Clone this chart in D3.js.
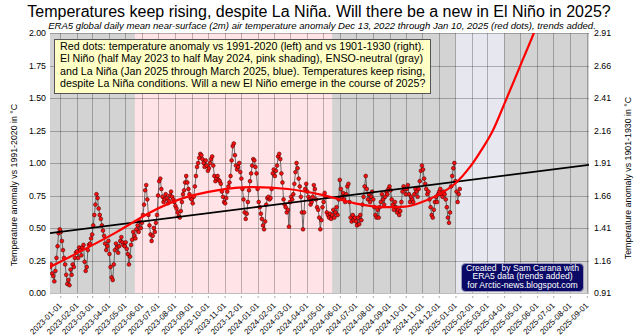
<!DOCTYPE html>
<html><head><meta charset="utf-8">
<script src="https://cdn.jsdelivr.net/npm/d3@7"></script>
<style>
html,body{margin:0;padding:0;background:#fff;}
svg{display:block;font-family:"Liberation Sans",Arial,Helvetica,sans-serif;}
</style></head><body>
<svg id="chart" width="640" height="336"></svg>
<script>
// ---------- texts ----------
const titleText = "Temperatures keep rising, despite La Niña. Will there be a new in El Niño in 2025?";
const subtitleText = "ERA5 global daily mean near-surface (2m) air temperature anomaly Dec 13, 2022 through Jan 10, 2025 (red dots), trends added.";
const leftAxisTitle = "Temperature anomaly vs 1991-2020 in °C";
const rightAxisTitle = "Temperature anomaly vs 1901-1930 in °C";
const noteLines = [
  "Red dots: temperature anomaly vs 1991-2020 (left) and vs 1901-1930 (right).",
  "El Niño (half May 2023 to half May 2024, pink shading), ENSO-neutral (gray)",
  "and La Niña (Jan 2025 through March 2025, blue). Temperatures keep rising,",
  "despite La Niña conditions. Will a new El Niño emerge in the course of 2025?"
];
const creditLines = ["Created  by Sam Carana with", "ERA5 data (trends added)", "for Arctic-news.blogspot.com"];

// ---------- axes / ticks ----------
const xDomain = ["2022-12-13", "2025-09-05"];
const monthTicks = ["2023-01-01","2023-02-01","2023-03-01","2023-04-01","2023-05-01","2023-06-01","2023-07-01","2023-08-01","2023-09-01","2023-10-01","2023-11-01","2023-12-01",
  "2024-01-01","2024-02-01","2024-03-01","2024-04-01","2024-05-01","2024-06-01","2024-07-01","2024-08-01","2024-09-01","2024-10-01","2024-11-01","2024-12-01",
  "2025-01-01","2025-02-01","2025-03-01","2025-04-01","2025-05-01","2025-06-01","2025-07-01","2025-08-01","2025-09-01"];
const leftTicks = [0, 0.25, 0.5, 0.75, 1.0, 1.25, 1.5, 1.75, 2.0];
const rightTicks = [0.91, 1.16, 1.41, 1.66, 1.91, 2.16, 2.41, 2.66, 2.91];

// ---------- ENSO shading ----------
const ensoStart = ["2023-05-19", "2025-01-01"];
const ensoEnd   = ["2024-05-18", "2025-04-01"];
const ensoPhase = ["El Niño", "La Niña"];

// ---------- daily anomaly (every 2nd day from first date), °C vs 1991-2020 ----------
const firstDate = "2022-12-13";
const stepDays = 2;
const anomalyValues = [
  // Dec 2022
  0.20,0.22,0.15,0.13,0.09,0.17,0.27,0.36,0.46,0.49,
  // Jan 2023
  0.47,0.40,0.33,0.27,0.22,0.14,0.07,0.10,0.06,0.18,0.14,0.22,0.20,0.27,0.31,
  // Feb
  0.32,0.27,0.35,0.33,0.29,0.35,0.37,0.24,0.17,0.20,0.33,0.37,0.38,0.42,
  // Mar
  0.45,0.52,0.60,0.68,0.76,0.73,0.65,0.60,0.57,0.52,0.48,0.44,0.38,0.33,0.36,
  // Apr
  0.40,0.30,0.20,0.12,0.10,0.22,0.33,0.38,0.35,0.31,0.36,0.40,0.43,0.39,0.37,
  // May
  0.36,0.39,0.34,0.30,0.22,0.28,0.37,0.41,0.47,0.44,0.42,0.49,0.52,0.47,0.55,0.50,
  // Jun
  0.54,0.60,0.68,0.79,0.83,0.72,0.60,0.52,0.45,0.40,0.44,0.50,0.47,0.54,0.60,
  // Jul
  0.75,0.86,0.88,0.80,0.74,0.70,0.72,0.76,0.73,0.69,0.71,0.75,0.78,0.74,0.72,
  // Aug
  0.70,0.67,0.65,0.62,0.59,0.58,0.63,0.70,0.76,0.79,0.85,0.90,0.85,0.80,0.76,0.73,
  // Sep
  0.72,0.69,0.74,0.82,0.90,0.97,1.00,1.04,1.07,1.06,1.03,1.00,0.97,1.02,0.98,
  // Oct
  0.94,0.96,1.00,1.03,1.05,0.98,0.90,0.86,0.88,0.90,0.87,0.86,0.84,0.78,0.74,0.70,
  // Nov
  0.69,0.73,0.78,0.82,0.85,0.90,1.02,1.13,1.15,1.06,0.98,0.95,0.97,1.00,0.93,
  // Dec
  0.88,0.80,0.72,0.62,0.57,0.61,0.70,0.79,0.86,0.92,0.98,1.03,1.02,0.97,0.92,
  // Jan 2024
  0.80,0.70,0.66,0.61,0.57,0.52,0.49,0.55,0.68,0.73,0.74,0.72,0.73,0.80,0.92,
  // Feb
  0.95,0.90,0.94,0.98,1.05,1.07,1.03,0.92,0.85,0.72,0.68,0.66,0.62,0.64,0.51,
  // Mar
  0.70,0.74,0.72,0.76,0.84,0.93,1.00,0.96,0.88,0.82,0.74,0.62,0.49,0.62,0.80,
  // Apr
  0.84,0.78,0.74,0.72,0.68,0.70,0.74,0.83,0.80,0.72,0.66,0.64,0.58,0.49,0.56,0.66,
  // May
  0.70,0.77,0.74,0.62,0.60,0.58,0.61,0.57,0.60,0.64,0.58,0.62,0.66,0.60,0.72,
  // Jun
  0.87,0.80,0.74,0.77,0.72,0.70,0.76,0.82,0.84,0.70,0.58,0.55,0.60,0.56,0.58,
  // Jul
  0.55,0.52,0.58,0.53,0.60,0.56,0.68,0.74,0.82,0.90,0.80,0.72,0.76,0.70,0.74,
  // Aug
  0.78,0.72,0.66,0.60,0.58,0.64,0.58,0.66,0.70,0.76,0.72,0.68,0.74,0.78,0.76,0.80,
  // Sep
  0.82,0.79,0.72,0.68,0.64,0.70,0.66,0.62,0.64,0.60,0.63,0.70,0.78,0.82,0.80,
  // Oct
  0.76,0.80,0.83,0.76,0.70,0.74,0.72,0.70,0.76,0.80,0.78,0.74,0.80,0.86,0.94,0.98,
  // Nov
  0.95,0.88,0.84,0.80,0.76,0.78,0.72,0.66,0.60,0.58,0.64,0.70,0.74,0.70,0.76,
  // Dec
  0.78,0.80,0.76,0.74,0.78,0.76,0.72,0.66,0.58,0.54,0.62,0.82,0.90,0.96,1.00,
  // Jan 2025
  0.86,0.78,0.70,0.76,0.80
];

// ---------- trends ----------
const polyTrendDates = ["2022-12-13","2023-02-12","2023-04-16","2023-06-16","2023-08-16","2023-10-18","2023-12-18",
  "2024-02-26","2024-04-29","2024-06-29","2024-08-29","2024-09-30","2024-10-31","2024-11-30","2024-12-31",
  "2025-01-28","2025-02-15","2025-03-10","2025-04-03","2025-04-30","2025-05-26","2025-06-21"];
const polyTrendValues = [0.20,0.33,0.47,0.62,0.73,0.79,0.815,
  0.80,0.755,0.69,0.66,0.665,0.70,0.755,0.84,
  0.97,1.08,1.24,1.47,1.74,2.00,2.28];
const linTrendDates = ["2022-12-13", "2025-09-05"];
const linTrendValues = [0.46, 0.985];

// ---------- drawing ----------
const W = 640, H = 336;
const P = {left: 50, right: 589, top: 33, bottom: 293};
const parse = d3.utcParse("%Y-%m-%d");
const x = d3.scaleUtc().domain(xDomain.map(parse)).range([P.left, P.right]);
const y = d3.scaleLinear().domain([0, 2]).range([P.bottom, P.top]);
const yR = d3.scaleLinear().domain([0.91, 2.91]).range([P.bottom, P.top]);

const svg = d3.select("#chart");
svg.append("rect").attr("width", W).attr("height", H).attr("fill", "#fff");

svg.append("defs").append("clipPath").attr("id", "clip")
  .append("rect").attr("x", P.left).attr("y", P.top)
  .attr("width", P.right - P.left).attr("height", P.bottom - P.top);

// background (ENSO-neutral gray)
svg.append("rect").attr("x", P.left).attr("y", P.top)
  .attr("width", P.right - P.left).attr("height", P.bottom - P.top)
  .attr("fill", "#d3d3d3");

const ensoColor = {"El Niño": "#ffe3e6", "La Niña": "#e7e8ef"};
svg.append("g").selectAll("rect").data(ensoPhase).join("rect")
  .attr("x", (d, i) => x(parse(ensoStart[i])))
  .attr("width", (d, i) => x(parse(ensoEnd[i])) - x(parse(ensoStart[i])))
  .attr("y", P.top).attr("height", P.bottom - P.top)
  .attr("fill", d => ensoColor[d]);

// grid
const grid = svg.append("g").attr("stroke", "rgba(0,0,0,0.26)").attr("stroke-width", 1);
grid.selectAll("line.v").data(monthTicks).join("line").attr("class", "v")
  .attr("x1", d => Math.round(x(parse(d))) + 0.5).attr("x2", d => Math.round(x(parse(d))) + 0.5)
  .attr("y1", P.top).attr("y2", P.bottom);
grid.selectAll("line.h").data(leftTicks).join("line").attr("class", "h")
  .attr("x1", P.left).attr("x2", P.right)
  .attr("y1", d => Math.round(y(d)) + 0.5).attr("y2", d => Math.round(y(d)) + 0.5);

// data
const pts = anomalyValues.map((v, i) => ({date: d3.utcDay.offset(parse(firstDate), i * stepDays), v}));
const dataG = svg.append("g").attr("clip-path", "url(#clip)");
dataG.append("path").datum(pts)
  .attr("d", d3.line().x(d => x(d.date)).y(d => y(d.v)))
  .attr("fill", "none").attr("stroke", "#4a4a4a").attr("stroke-width", 0.8);
dataG.selectAll("circle").data(pts).join("circle")
  .attr("cx", d => x(d.date)).attr("cy", d => y(d.v)).attr("r", 1.9)
  .attr("fill", "#ff1010").attr("stroke", "#400000").attr("stroke-width", 0.55);

// trends
const trendG = svg.append("g").attr("clip-path", "url(#clip)");
trendG.append("path")
  .datum(linTrendDates.map((d, i) => ({date: parse(d), v: linTrendValues[i]})))
  .attr("d", d3.line().x(d => x(d.date)).y(d => y(d.v)))
  .attr("fill", "none").attr("stroke", "#000").attr("stroke-width", 1.7);
trendG.append("path")
  .datum(polyTrendDates.map((d, i) => ({date: parse(d), v: polyTrendValues[i]})))
  .attr("d", d3.line().curve(d3.curveMonotoneX).x(d => x(d.date)).y(d => y(d.v)))
  .attr("fill", "none").attr("stroke", "#ff0000").attr("stroke-width", 2.2);

// axes
const axL = svg.append("g").attr("transform", `translate(${P.left},0)`)
  .call(d3.axisLeft(y).tickValues(leftTicks).tickFormat(d3.format(".2f")).tickSize(0).tickPadding(4));
const axR = svg.append("g").attr("transform", `translate(${P.right},0)`)
  .call(d3.axisRight(yR).tickValues(rightTicks).tickFormat(d3.format(".2f")).tickSize(0).tickPadding(5));
[axL, axR].forEach(a => {
  a.select(".domain").remove();
  a.selectAll("text").attr("font-size", 8.8).attr("fill", "#000")
    .attr("font-family", '"Liberation Sans",Arial,sans-serif');
});

const axB = svg.append("g").attr("transform", `translate(0,${P.bottom + 3})`)
  .call(d3.axisBottom(x).tickValues(monthTicks.map(parse)).tickFormat(d3.utcFormat("%Y-%m-%d")).tickSize(2));
axB.select(".domain").remove();
axB.selectAll(".tick line").attr("stroke", "#aaa");
axB.selectAll("text")
  .attr("font-size", 8).attr("fill", "#000")
  .attr("font-family", '"Liberation Sans",Arial,sans-serif')
  .attr("text-anchor", "end").attr("x", 0).attr("y", 0).attr("dy", 0)
  .attr("transform", "translate(1.5,10) rotate(-45)");

// axis titles
svg.append("text").text(leftAxisTitle)
  .attr("transform", `translate(16.5,185) rotate(-90)`)
  .attr("text-anchor", "middle").attr("font-size", 8.8).attr("fill", "#000");
svg.append("text").text(rightAxisTitle)
  .attr("transform", `translate(631,178) rotate(-90)`)
  .attr("text-anchor", "middle").attr("font-size", 8.8).attr("fill", "#000");

// title / subtitle
function fitWidth(sel, target) {
  const w = sel.node().getComputedTextLength();
  const fs = parseFloat(sel.attr("font-size"));
  sel.attr("font-size", fs * target / w);
  return fs * target / w;
}
const tt = svg.append("text").text(titleText).attr("x", 319).attr("y", 17)
  .attr("text-anchor", "middle").attr("font-size", 17).attr("fill", "#000");
fitWidth(tt, 584);
const st = svg.append("text").text(subtitleText).attr("x", 322).attr("y", 28.5)
  .attr("text-anchor", "middle").attr("font-size", 9.6).attr("font-style", "italic").attr("fill", "#000");
fitWidth(st, 548);

// note box
svg.append("rect").attr("x", 54.5).attr("y", 39.5).attr("width", 376).attr("height", 54)
  .attr("fill", "#ffffc6").attr("stroke", "#555").attr("stroke-width", 1);
const noteG = svg.append("g");
const n0 = noteG.append("text").text(noteLines[0]).attr("x", 60).attr("y", 50).attr("font-size", 10.7).attr("fill", "#000");
const nfs = fitWidth(n0, 364);
noteLines.slice(1).forEach((t, i) => {
  noteG.append("text").text(t).attr("x", 60).attr("y", 50 + 12.4 * (i + 1))
    .attr("font-size", nfs).attr("fill", "#000");
});

// credit box
svg.append("rect").attr("x", 461.5).attr("y", 263.5).attr("width", 122).attr("height", 28).attr("rx", 4)
  .attr("fill", "#0a0a66").attr("stroke", "#9a9ab8").attr("stroke-width", 1);
const c2 = svg.append("text").text(creditLines[2]).attr("x", 522.5).attr("y", 287.6)
  .attr("text-anchor", "middle").attr("font-size", 8.4).attr("fill", "#fff");
const cfs = fitWidth(c2, 110);
[creditLines[0], creditLines[1]].forEach((t, i) => {
  svg.append("text").text(t).attr("x", 522.5).attr("y", 270.6 + 8.5 * i)
    .attr("text-anchor", "middle").attr("font-size", cfs).attr("fill", "#fff")
    .style("white-space", "pre");
});
</script>
</body></html>
